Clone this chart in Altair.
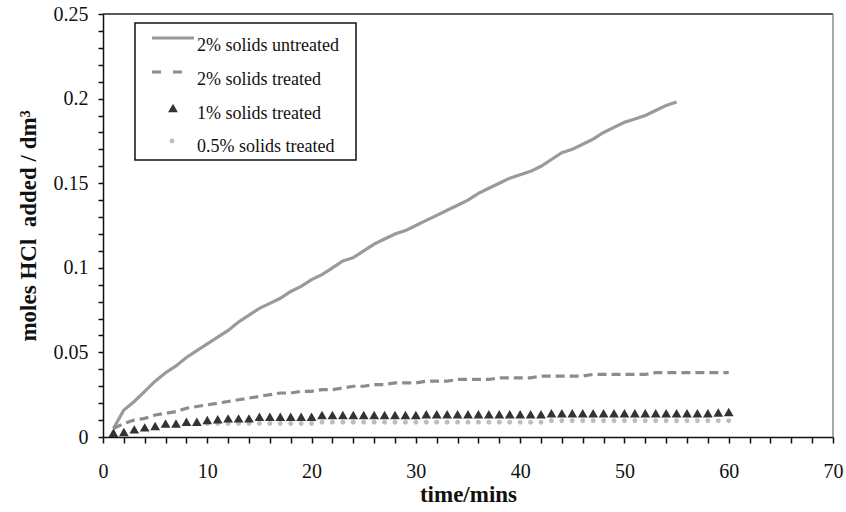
import altair as alt
import pandas as pd

# ---------------- data ----------------
time_untreated = list(range(1, 56))
untreated_2pct = [
    0.005, 0.016, 0.021, 0.027, 0.033, 0.038, 0.042, 0.047, 0.051, 0.055,
    0.059, 0.063, 0.068, 0.072, 0.076, 0.079, 0.082, 0.086, 0.089, 0.093,
    0.096, 0.100, 0.104, 0.106, 0.110, 0.114, 0.117, 0.120, 0.122, 0.125,
    0.128, 0.131, 0.134, 0.137, 0.140, 0.144, 0.147, 0.150, 0.153, 0.155,
    0.157, 0.160, 0.164, 0.168, 0.170, 0.173, 0.176, 0.180, 0.183, 0.186,
    0.188, 0.190, 0.193, 0.196, 0.198,
]

time_treated = list(range(1, 61))
treated_2pct = [
    0.005, 0.008, 0.010, 0.011, 0.013, 0.014, 0.015, 0.017, 0.018, 0.019,
    0.020, 0.021, 0.022, 0.023, 0.024, 0.025, 0.026, 0.026, 0.027, 0.027,
    0.028, 0.028, 0.029, 0.030, 0.030, 0.031, 0.031, 0.032, 0.032, 0.032,
    0.033, 0.033, 0.033, 0.034, 0.034, 0.034, 0.034, 0.035, 0.035, 0.035,
    0.035, 0.036, 0.036, 0.036, 0.036, 0.036, 0.037, 0.037, 0.037, 0.037,
    0.037, 0.037, 0.038, 0.038, 0.038, 0.038, 0.038, 0.038, 0.038, 0.038,
]
treated_1pct = [
    0.0025, 0.003, 0.0045, 0.0057, 0.0065, 0.008, 0.008, 0.009, 0.009, 0.010,
    0.0105, 0.011, 0.011, 0.011, 0.012, 0.012, 0.012, 0.012, 0.012, 0.012,
    0.013, 0.013, 0.013, 0.013, 0.013, 0.013, 0.013, 0.013, 0.013, 0.013,
    0.0135, 0.0135, 0.0135, 0.0135, 0.0135, 0.0135, 0.0135, 0.0135, 0.0135, 0.0135,
    0.0135, 0.0135, 0.014, 0.014, 0.014, 0.014, 0.014, 0.014, 0.014, 0.014,
    0.014, 0.014, 0.014, 0.014, 0.014, 0.014, 0.014, 0.014, 0.0145, 0.0148,
]
treated_05pct = [
    0.0024, 0.003, 0.004, 0.005, 0.006, 0.007, 0.007, 0.008, 0.008, 0.008,
    0.008, 0.008, 0.008, 0.008, 0.008, 0.008, 0.008, 0.008, 0.008, 0.008,
    0.0087, 0.0087, 0.0087, 0.0087, 0.0087, 0.0087, 0.0087, 0.0087, 0.0087, 0.0087,
    0.0087, 0.0087, 0.0087, 0.0087, 0.0087, 0.0087, 0.0087, 0.0087, 0.0087, 0.0087,
    0.0087, 0.0087, 0.0096, 0.0096, 0.0096, 0.0096, 0.0096, 0.0096, 0.0096, 0.0096,
    0.0096, 0.0096, 0.0096, 0.0096, 0.0096, 0.0096, 0.0096, 0.0096, 0.0096, 0.0096,
]

series_names = [
    "2% solids untreated",
    "2% solids treated",
    "1% solids treated",
    "0.5% solids treated",
]

x_ticks = list(range(0, 71, 2))
y_ticks = [round(i * 0.01, 2) for i in range(26)]

# ---------------- layout ----------------
W, H = 730, 423
FONT = "Liberation Serif"

df_untreated = pd.DataFrame({"t": time_untreated, "v": untreated_2pct})
df_t2 = pd.DataFrame({"t": time_treated, "v": treated_2pct})
df_t1 = pd.DataFrame({"t": time_treated, "v": treated_1pct})
df_t05 = pd.DataFrame({"t": time_treated, "v": treated_05pct})

x_enc = alt.X(
    "t:Q",
    scale=alt.Scale(domain=[0, 70], nice=False),
    axis=alt.Axis(
        values=x_ticks,
        labelExpr="datum.value % 10 === 0 ? datum.label : ''",
        tickSize=6,
        title="time/mins",
        labelFlush=False,
        labelPadding=18,
        titlePadding=2,
        titleFontSize=23,
    ),
)
y_enc = alt.Y(
    "v:Q",
    scale=alt.Scale(domain=[0, 0.25], nice=False),
    axis=alt.Axis(
        values=y_ticks,
        labelExpr="round(datum.value * 100) % 5 === 0 ? format(datum.value, '') : ''",
        tickSize=5,
        title="moles HCl\u00a0\u00a0added / dm³",
        labelFlush=False,
        labelPadding=10,
        titlePadding=13,
        titleFontSize=23,
    ),
)

one = alt.Data(values=[{"a": 1}])

top_border = alt.Chart(one).mark_rule(color="#222222", strokeWidth=1.5).encode(
    x=alt.value(0), x2=alt.value(W), y=alt.value(0)
)
right_border = alt.Chart(one).mark_rule(color="#8a8a8a", strokeWidth=1.5).encode(
    x=alt.value(W), y=alt.value(0), y2=alt.value(H)
)

line_untreated = alt.Chart(df_untreated).mark_line(
    color="#9a9a9a", strokeWidth=3.2
).encode(x=x_enc, y=y_enc)
line_t2 = alt.Chart(df_t2).mark_line(
    color="#8c8c8c", strokeWidth=3.2, strokeDash=[9, 5]
).encode(x=x_enc, y=y_enc)
pts_t1 = alt.Chart(df_t1).mark_point(
    shape="triangle-up", filled=True, color="#333333", size=95, opacity=1
).encode(x=x_enc, y=y_enc)
pts_t05 = alt.Chart(df_t05).mark_point(
    shape="circle", filled=True, color="#bdbdbd", size=24, opacity=1
).encode(x=x_enc, y=y_enc)

# ---------------- legend (drawn by hand) ----------------
legend_box = alt.Chart(one).mark_rect(
    fill="white", stroke="#111111", strokeWidth=1.5
).encode(x=alt.value(32), x2=alt.value(253), y=alt.value(9), y2=alt.value(146))

leg_line1 = alt.Chart(one).mark_rule(color="#9a9a9a", strokeWidth=3.2).encode(
    x=alt.value(49), x2=alt.value(91), y=alt.value(24)
)
leg_line2 = alt.Chart(one).mark_rule(
    color="#8c8c8c", strokeWidth=3.2, strokeDash=[9, 12]
).encode(x=alt.value(49), x2=alt.value(80), y=alt.value(58))
leg_tri = alt.Chart(one).mark_point(
    shape="triangle-up", filled=True, color="#333333", size=95, opacity=1
).encode(x=alt.value(70), y=alt.value(94))
leg_circ = alt.Chart(one).mark_point(
    shape="circle", filled=True, color="#bdbdbd", size=24, opacity=1
).encode(x=alt.value(69), y=alt.value(127))

leg_y = [32, 66, 100, 133]
leg_texts = [
    alt.Chart(one).mark_text(
        align="left", baseline="middle", font=FONT, fontSize=18, color="#111111"
    ).encode(x=alt.value(94), y=alt.value(yy), text=alt.value(name))
    for name, yy in zip(series_names, leg_y)
]

chart = alt.layer(
    top_border, right_border,
    line_untreated, line_t2, pts_t05, pts_t1,
    legend_box, leg_line1, leg_line2, leg_tri, leg_circ, *leg_texts,
).properties(
    width=W, height=H,
    autosize=alt.AutoSizeParams(type="none"),
    padding={"left": 103, "top": 14, "right": 13, "bottom": 75},
    background="white",
).configure_view(
    stroke=None
).configure_text(
    font=FONT
).configure_axis(
    grid=False,
    domainColor="#111111", domainWidth=1.5,
    tickColor="#111111", tickWidth=1.5,
    labelFont=FONT, labelFontSize=20, labelColor="#111111",
    titleFont=FONT, titleFontWeight="bold", titleColor="#111111",
)

chart.save("out.html", embed_options={"renderer": "svg", "actions": False})
